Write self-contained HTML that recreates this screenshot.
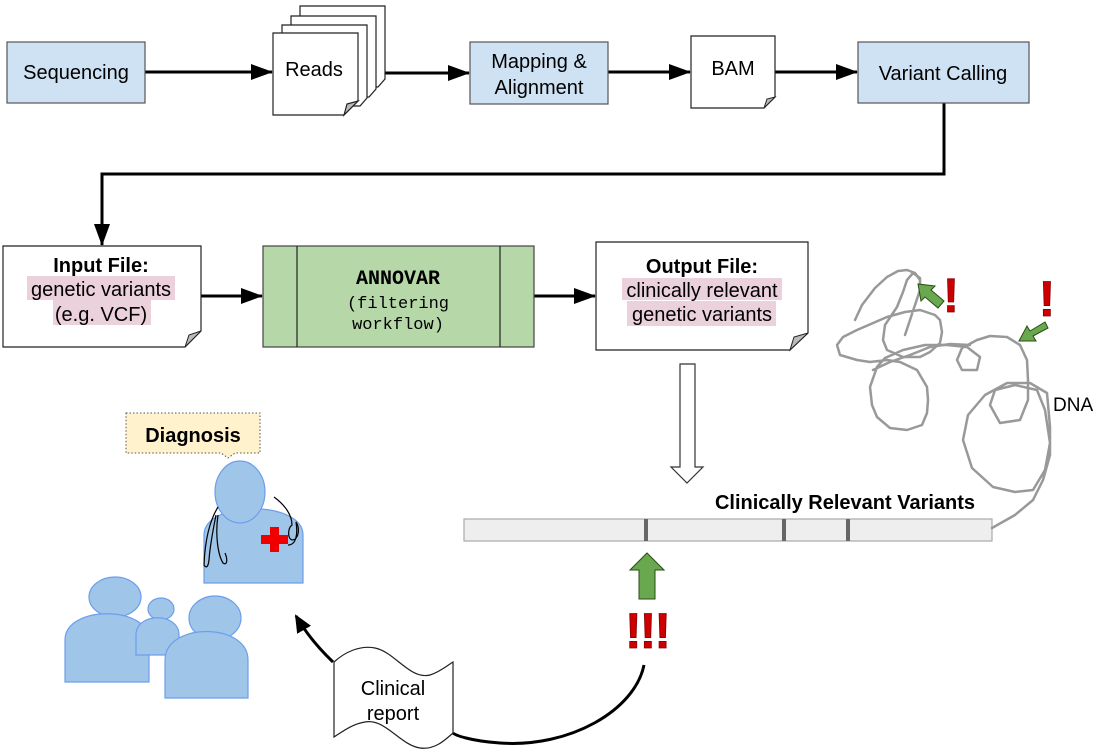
<!DOCTYPE html>
<html><head><style>
body{margin:0;background:#fff;}
svg{display:block;font-family:"Liberation Sans",sans-serif;}
</style></head><body>
<svg width="1100" height="752" viewBox="0 0 1100 752" xmlns="http://www.w3.org/2000/svg">
<defs>
<marker id="ah2" markerWidth="22" markerHeight="16" refX="21" refY="8" orient="auto" markerUnits="userSpaceOnUse"><path d="M0,0 L22,8 L0,16 Z" fill="#000"/></marker>
<marker id="ah3" markerWidth="18" markerHeight="16" refX="16" refY="8" orient="auto" markerUnits="userSpaceOnUse"><path d="M0,0 L18,8 L0,16 Z" fill="#000"/></marker>
</defs>
<g stroke="#000" stroke-width="3" fill="none">
<line x1="145" y1="72" x2="272" y2="72" marker-end="url(#ah2)"/>
<line x1="358" y1="73" x2="469" y2="73" marker-end="url(#ah2)"/>
<line x1="608" y1="72" x2="690" y2="72" marker-end="url(#ah2)"/>
<line x1="775" y1="72" x2="857" y2="72" marker-end="url(#ah2)"/>
<polyline points="944,103 944,174 102,174 102,245" marker-end="url(#ah2)"/>
<line x1="201" y1="296" x2="262" y2="296" marker-end="url(#ah2)"/>
<line x1="534" y1="296" x2="595" y2="296" marker-end="url(#ah2)"/>
</g>
<!-- Sequencing -->
<rect x="7" y="42" width="138" height="61" fill="#cfe2f3" stroke="#555" stroke-width="1.2"/>
<text x="76" y="79" text-anchor="middle" font-size="20">Sequencing</text>
<!-- Reads stack -->
<g stroke="#222" stroke-width="1.2" fill="#fff">
<path d="M300,6 H385 V79 L378,87 H300 Z"/>
<path d="M291,16 H376 V89 L369,97 H291 Z"/>
<path d="M282,25 H367 V98 L360,106 H282 Z"/>
<path d="M273,33 H358 V101 L344,115 H273 Z"/>
<path d="M344,115 L347,104 L358,101 Z" fill="#bbb"/>
</g>
<text x="314" y="76" text-anchor="middle" font-size="20">Reads</text>
<!-- Mapping -->
<rect x="470" y="42" width="138" height="62" fill="#cfe2f3" stroke="#555" stroke-width="1.2"/>
<text x="539" y="68" text-anchor="middle" font-size="20">Mapping &amp;</text>
<text x="539" y="94" text-anchor="middle" font-size="20">Alignment</text>
<!-- BAM -->
<path d="M691,36 H775 V97 L764,108 H691 Z" fill="#fff" stroke="#222" stroke-width="1.2"/>
<path d="M764,108 L767,99 L775,97 Z" fill="#bbb" stroke="#222" stroke-width="1"/>
<text x="733" y="75" text-anchor="middle" font-size="20">BAM</text>
<!-- Variant Calling -->
<rect x="858" y="42" width="171" height="61" fill="#cfe2f3" stroke="#555" stroke-width="1.2"/>
<text x="943" y="80" text-anchor="middle" font-size="20">Variant Calling</text>
<!-- Input file -->
<path d="M3,246 H201 V331 L185,347 H3 Z" fill="#fff" stroke="#222" stroke-width="1.2"/>
<path d="M185,347 L189,335 L201,331 Z" fill="#bbb" stroke="#222" stroke-width="1"/>
<rect x="27" y="276" width="148" height="24" fill="#ead1dc"/>
<rect x="53" y="300" width="98" height="25" fill="#ead1dc"/>
<text x="101" y="272" text-anchor="middle" font-size="20" font-weight="bold">Input File:</text>
<text x="101" y="296" text-anchor="middle" font-size="20">genetic variants</text>
<text x="101" y="321" text-anchor="middle" font-size="20">(e.g. VCF)</text>
<!-- ANNOVAR -->
<rect x="263" y="246" width="271" height="101" fill="#b6d7a8" stroke="#444" stroke-width="1.2"/>
<line x1="297" y1="246" x2="297" y2="347" stroke="#222" stroke-width="1.2"/>
<line x1="500" y1="246" x2="500" y2="347" stroke="#222" stroke-width="1.2"/>
<text x="398" y="284" text-anchor="middle" font-size="20" font-weight="bold" font-family="Liberation Mono, monospace">ANNOVAR</text>
<text x="398" y="308" text-anchor="middle" font-size="17" font-family="Liberation Mono, monospace">(filtering</text>
<text x="398" y="329" text-anchor="middle" font-size="17" font-family="Liberation Mono, monospace">workflow)</text>
<!-- Output file -->
<path d="M596,242 H808 V333 L790,350 H596 Z" fill="#fff" stroke="#222" stroke-width="1.2"/>
<path d="M790,350 L794,337 L808,333 Z" fill="#bbb" stroke="#222" stroke-width="1"/>
<rect x="622" y="278" width="160" height="22" fill="#ead1dc"/>
<rect x="627" y="301" width="149" height="25" fill="#ead1dc"/>
<text x="702" y="273" text-anchor="middle" font-size="20" font-weight="bold">Output File:</text>
<text x="702" y="297" text-anchor="middle" font-size="20">clinically relevant</text>
<text x="702" y="321" text-anchor="middle" font-size="20">genetic variants</text>
<!-- hollow arrow -->
<path d="M680,364 H695 V467 H703 L687,483 L671,467 H680 Z" fill="#fff" stroke="#333" stroke-width="1.2"/>
<!-- bar -->
<text x="845" y="509" text-anchor="middle" font-size="20" font-weight="bold">Clinically Relevant Variants</text>
<rect x="464" y="519" width="528" height="22" fill="#eee" stroke="#aaa" stroke-width="1.2"/>
<g stroke="#666" stroke-width="4"><line x1="646" y1="519" x2="646" y2="541"/><line x1="784" y1="519" x2="784" y2="541"/><line x1="848" y1="519" x2="848" y2="541"/></g>
<!-- DNA -->
<g fill="none" stroke="#999" stroke-width="2.5" stroke-linecap="round" stroke-linejoin="round">
<polyline points="992,528 1015,515 1033,500 1043,480 1050,455 1050,427 1047,393 1030,383 1007,383 985,395 968,415 963,440 972,468 993,487 1015,492 1033,490 1045,470 1050,443 1045,410 1037,390 1015,385 995,390 990,405 1000,423 1020,420 1028,400 1028,380 1027,360 1020,345 1007,337 990,336 977,340 962,348 957,360 962,370 977,370 980,357 967,347 947,345 925,345 903,350 885,358 877,367 870,387 872,405 877,417 890,428 907,430 922,425 927,413 928,400 927,387 917,370 900,362 887,360 870,362 857,360 840,355 837,345 843,337 857,330 887,317 905,312 920,310 935,315 940,320 942,332 940,343 930,352 920,357 903,357 887,350 883,340 885,325 897,307 903,292 907,280 913,273 920,278 920,290 915,305 910,320 905,335"/>
<polyline points="855,320 862,305 875,288 887,277 898,271 907,270 915,273 920,280"/>
<polyline points="873,370 890,362 910,355 930,347 950,344 970,345"/>
</g>
<text x="1053" y="411" font-size="19">DNA</text>
<!-- small green arrows on DNA -->
<g fill="#6aa84f" stroke="#274e13" stroke-width="1">
<path d="M944,301 L931,290 L935,286 L918,284 L921,301 L925,297 L938,308 Z"/>
<path d="M1045,322 L1030,331 L1027,326 L1019,341 L1036,341 L1033,336 L1048,328 Z"/>
</g>
<text x="951" y="312" font-size="48" font-weight="bold" fill="#cc0000" stroke="#800" stroke-width="0.8" text-anchor="middle">!</text>
<text x="1047" y="316" font-size="50" font-weight="bold" fill="#cc0000" stroke="#800" stroke-width="0.8" text-anchor="middle">!</text>
<!-- green up arrow -->
<path d="M647,553 L664,570 L655,570 L655,599 L639,599 L639,570 L630,570 Z" fill="#6aa84f" stroke="#274e13" stroke-width="1"/>
<text x="647" y="648" text-anchor="middle" font-size="50" font-weight="bold" fill="#cc0000" stroke="#800" stroke-width="0.8" letter-spacing="-2">!!!</text>
<!-- curve -->
<path d="M644,665 C635,710 570,748 500,743 C470,741 455,735 453,733" fill="none" stroke="#000" stroke-width="3"/>
<!-- clinical report -->
<path d="M334,662 C345,652 360,645 375,648 C395,652 410,680 430,675 C440,672 448,665 453,662 V733 C445,740 435,750 420,748 C400,745 385,718 365,722 C352,724 342,732 334,737 Z" fill="#fff" stroke="#222" stroke-width="1.2"/>
<text x="393" y="695" text-anchor="middle" font-size="20">Clinical</text>
<text x="393" y="720" text-anchor="middle" font-size="20">report</text>
<path d="M333,662 Q310,640 296,616" fill="none" stroke="#000" stroke-width="3" marker-end="url(#ah3)"/>
<!-- diagnosis -->
<path d="M126,413 H260 V453 H235 L228,458 L221,453 H126 Z" fill="#fff2cc" stroke="#555" stroke-width="1" stroke-dasharray="1.5,2"/>
<text x="193" y="442" text-anchor="middle" font-size="20" font-weight="bold">Diagnosis</text>
<!-- doctor -->
<g fill="#9fc5e8" stroke="#6d9eeb" stroke-width="1.2">
<path d="M204,583 V535 C204,500 303,500 303,535 V583 Z"/>
<ellipse cx="240" cy="492" rx="25" ry="31"/>
</g>
<path d="M218,507 C210,520 205,540 204,565 C206,568 208,568 209,560 C210,545 214,525 216,515 M218,515 C215,535 218,555 223,563 C227,566 228,560 225,553 M274,497 C285,505 292,515 292,525 C288,528 287,538 292,540 C299,540 300,528 296,522 C298,535 296,545 288,545" fill="none" stroke="#000" stroke-width="1.2"/>
<path d="M270,527 h9 v8 h9 v9 h-9 v8 h-9 v-8 h-9 v-9 h9 Z" fill="#e00"/>
<!-- people -->
<g fill="#9fc5e8" stroke="#6d9eeb" stroke-width="1.2">
<ellipse cx="115" cy="597" rx="26" ry="20"/>
<path d="M65,682 V640 C65,605 149,605 149,640 V682 Z"/>
<ellipse cx="161" cy="609" rx="13" ry="11"/>
<path d="M136,655 V635 C136,612 179,612 179,635 V655 Z"/>
<ellipse cx="215" cy="618" rx="26" ry="22"/>
<path d="M165,698 V660 C165,622 248,622 248,660 V698 Z"/>
</g>
</svg>
</body></html>
